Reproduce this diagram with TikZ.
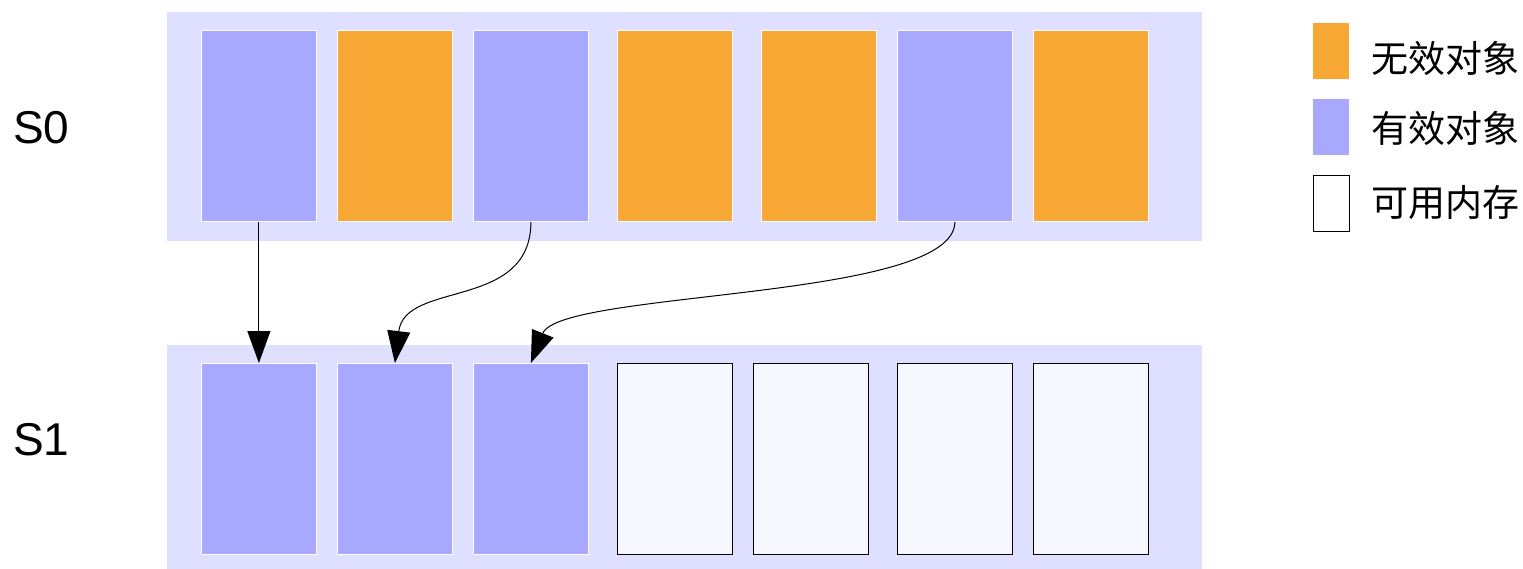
\documentclass[tikz,border=0pt]{standalone}
\usepackage{fontspec}
\setmainfont{Liberation Sans}
\newfontfamily\cjk{Noto Sans CJK SC}
\usetikzlibrary{arrows.meta,calc}
\definecolor{bandc}{HTML}{DFDFFF}
\definecolor{livec}{HTML}{A8A8FF}
\definecolor{deadc}{HTML}{F7A733}
\definecolor{freec}{HTML}{F7F8FF}
\tikzset{
  band/.style={draw=none, fill=bandc, inner sep=0pt, anchor=north west},
  blk/.style={inner sep=0pt, minimum width=115pt, minimum height=191pt, anchor=north west},
  live/.style={blk, fill=livec, draw=white, line width=0.8pt},
  dead/.style={blk, fill=deadc, draw=white, line width=0.8pt},
  freeblk/.style={blk, fill=freec, draw=black, line width=1pt},
  lg/.style={inner sep=0pt, minimum width=36pt, minimum height=56pt, anchor=north west},
  lbl/.style={font=\fontsize{46}{50}\selectfont, inner sep=0pt, anchor=west},
  lgtext/.style={font=\cjk\fontsize{37}{42}\selectfont, inner sep=0pt, anchor=west},
  mv/.style={draw=black, line width=1pt, -{Triangle[length=32pt, width=23pt]}}
}
\begin{document}
\begin{tikzpicture}[x=1pt, y=-1pt]
\useasboundingbox (0,0) rectangle (1523,569);
% bands
\node[band, minimum width=1035pt, minimum height=229pt] (band0) at (167,12) {};
\node[band, minimum width=1035pt, minimum height=224pt] (band1) at (167,345) {};
% labels
\node[lbl] (s0) at (13,128) {S0};
\node[lbl] (s1) at (13,440) {S1};
% top blocks
\node[live] (a1) at (201,30) {};
\node[dead] (a2) at (337,30) {};
\node[live] (a3) at (473,30) {};
\node[dead] (a4) at (617,30) {};
\node[dead] (a5) at (761,30) {};
\node[live] (a6) at (897,30) {};
\node[dead] (a7) at (1033,30) {};
% bottom blocks
\node[live] (b1) at (201,363) {};
\node[live] (b2) at (337,363) {};
\node[live] (b3) at (473,363) {};
\node[freeblk] (b4) at (617,363) {};
\node[freeblk] (b5) at (753,363) {};
\node[freeblk] (b6) at (897,363) {};
\node[freeblk] (b7) at (1033,363) {};
% arrows
\draw[mv] (a1.south) -- (b1.north);
\draw[mv] (a3.south) .. controls ($(a3.south)+(0,89)$) and (405,280) .. (b2.north);
\draw[mv] (a6.south) .. controls ($(a6.south)+(0,79)$) and (560,290) .. (b3.north);
% legend
\node[lg, fill=deadc] (l1) at (1313,23) {};
\node[lg, fill=livec] (l2) at (1313,99) {};
\node[lg, fill=white, draw=black, line width=1pt] (l3) at (1313,175) {};
\node[lgtext] (t1) at (1371,58) {无效对象};
\node[lgtext] (t2) at (1371,128) {有效对象};
\node[lgtext] (t3) at (1371,203) {可用内存};
\end{tikzpicture}
\end{document}
